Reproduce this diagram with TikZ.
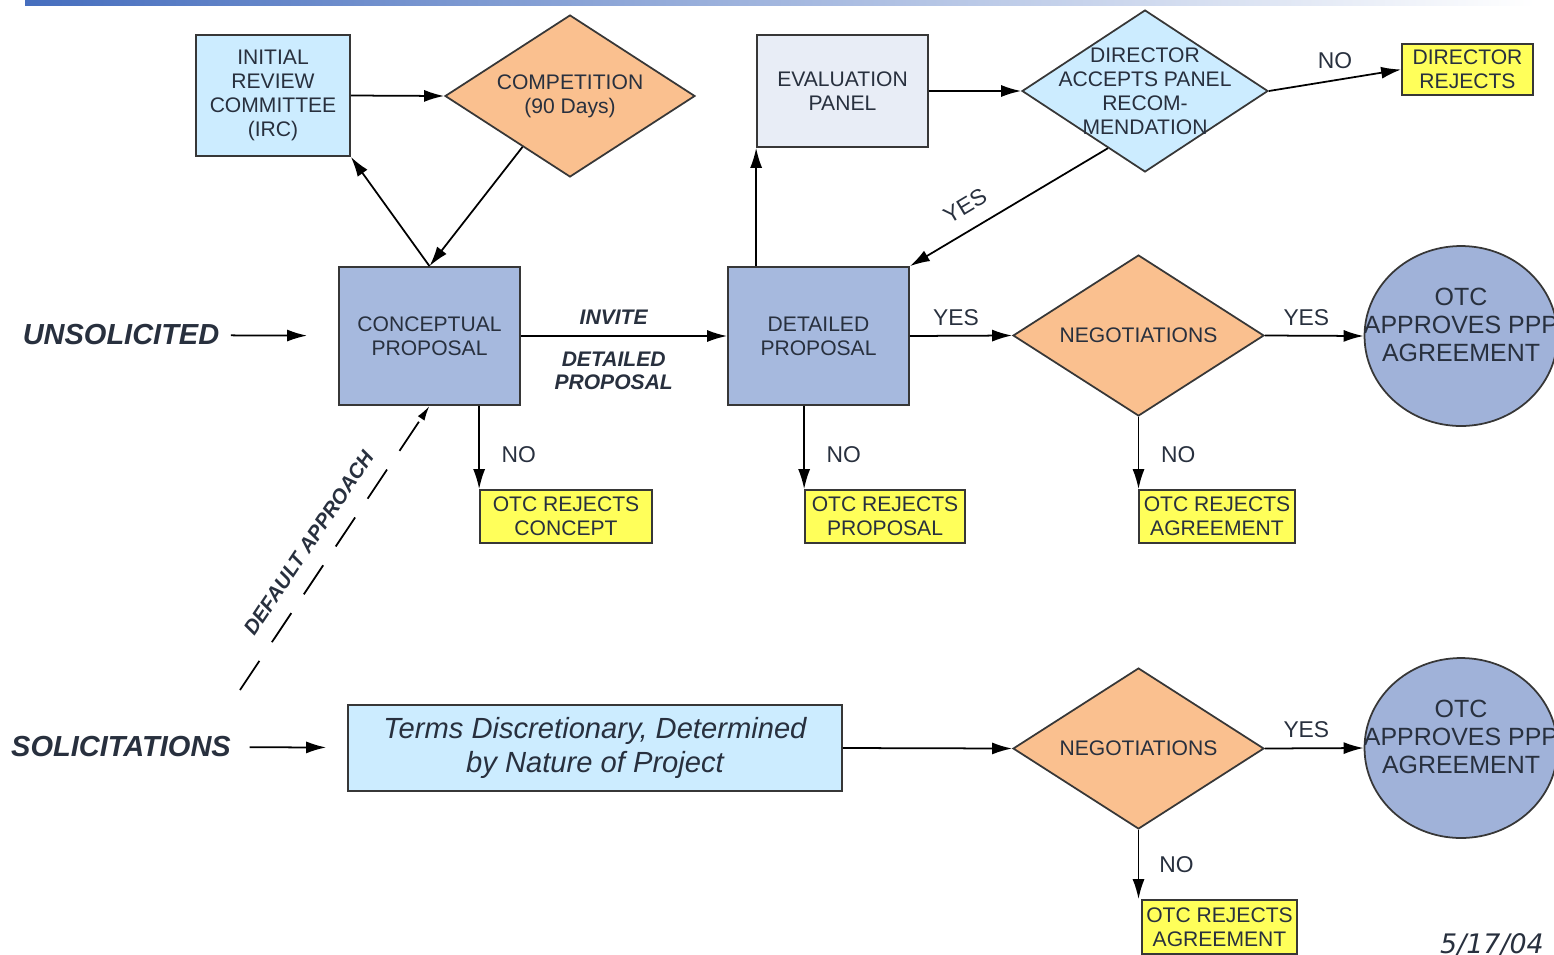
\documentclass[tikz,border=0pt]{standalone}
\usepackage{fontspec}
\setmainfont{Liberation Sans}
\newfontfamily\datefont{DejaVu Sans}
\usetikzlibrary{shapes.geometric,arrows.meta}
\definecolor{lightcyan}{RGB}{204,236,255}
\definecolor{peach}{RGB}{250,192,143}
\definecolor{steelfill}{RGB}{166,185,222}
\definecolor{palefill}{RGB}{232,237,246}
\definecolor{rejyellow}{RGB}{255,255,90}
\definecolor{circfill}{RGB}{160,178,217}
\definecolor{edgegray}{RGB}{55,55,55}
\definecolor{inkgray}{RGB}{40,48,62}
\definecolor{barblue}{RGB}{70,110,190}

\begin{document}
\begin{tikzpicture}[x=0.02cm, y=-0.02cm, line width = 1pt,
  >={Latex[length=0.4cm,width=0.24cm]},
  every node/.style={text=inkgray},
  txt/.style={font=\fontsize{12}{13.6}\selectfont, align=center},
  bigtxt/.style={font=\fontsize{14.2}{15.8}\selectfont, align=center},
  flow/.style={font=\fontsize{13}{15}\selectfont},
  side/.style={font=\fontsize{16.5}{18}\selectfont\bfseries\itshape},
  box/.style={draw=edgegray, txt, inner sep=0pt},
  dia/.style={diamond, draw=edgegray, inner sep=0pt, minimum width=5cm, minimum height=3.24cm},
  reject/.style={box, fill=rejyellow, minimum width=#1, minimum height=1.06cm},
  otc/.style={ellipse, draw=edgegray, fill=circfill, inner sep=0pt, minimum width=3.86cm, minimum height=3.6cm,
    label={[bigtxt, yshift=0.22cm]center:{OTC\\APPROVES PPP\\AGREEMENT}}}]

\useasboundingbox (0,0) rectangle (1554,954);
\shade[left color=barblue, right color=white] (25,0) rectangle (1535,5);

\node[box, fill=lightcyan, minimum width=3.08cm, minimum height=2.42cm] (irc) at (273,95.5) {INITIAL\\REVIEW\\COMMITTEE\\(IRC)};
\node[dia, fill=peach, label={[txt]center:{COMPETITION\\(90 Days)}}] (comp) at (570,96) {};
\node[box, fill=steelfill, minimum width=3.62cm, minimum height=2.76cm] (concept) at (429.5,336) {CONCEPTUAL\\PROPOSAL};
\node[box, fill=palefill, minimum width=3.42cm, minimum height=2.24cm] (eval) at (842.5,91) {EVALUATION\\PANEL};
\node[dia, fill=lightcyan, minimum width=4.92cm, label={[txt]center:{DIRECTOR\\ACCEPTS PANEL\\RECOM-\\MENDATION}}] (dir) at (1145,91) {};
\node[box, fill=rejyellow, minimum width=2.62cm, minimum height=1.02cm] (dirrej) at (1467.5,69.5) {DIRECTOR\\REJECTS};
\node[box, fill=steelfill, minimum width=3.62cm, minimum height=2.76cm] (detail) at (818.5,336) {DETAILED\\PROPOSAL};
\node[dia, fill=peach, minimum width=5.02cm, minimum height=3.22cm, label={[txt]center:NEGOTIATIONS}] (neg1) at (1138.5,335.5) {};
\node[otc] (otc1) at (1461,336) {};
\node[reject=3.44cm] (rejconcept) at (566,516.5) {OTC REJECTS\\CONCEPT};
\node[reject=3.2cm] (rejprop) at (885,516.5) {OTC REJECTS\\PROPOSAL};
\node[reject=3.12cm] (rejagr1) at (1217,516.5) {OTC REJECTS\\AGREEMENT};

\node[box, fill=lightcyan, minimum width=9.88cm, minimum height=1.72cm, font=\fontsize{16.6}{19}\selectfont\itshape] (terms) at (595,748) {Terms Discretionary, Determined\\by Nature of Project};
\node[dia, fill=peach, minimum width=5.02cm, minimum height=3.22cm, label={[txt]center:NEGOTIATIONS}] (neg2) at (1138.5,748.5) {};
\node[otc] (otc2) at (1461,748) {};
\node[reject=3.1cm, minimum height=1.08cm] (rejagr2) at (1219.5,927) {OTC REJECTS\\AGREEMENT};

\node[side] (unsol) at (121,335) {UNSOLICITED};
\node[side] (solic) at (121,747) {SOLICITATIONS};
\coordinate (dstart) at (240,690);
\node[anchor=base, font=\datefont\fontsize{15.3}{18}\selectfont\itshape] (date) at (1492,953) {5/17/04};

\draw[->, shorten <=0.1cm, shorten >=0.62cm] (unsol) -- (concept);
\draw[->, shorten <=0.24cm, shorten >=0.42cm] (solic) -- (terms);

\draw[->] (irc.east) -- (comp.west);
\draw[->] (concept.north) -- (irc.south east);
\draw[->] (comp.227) -- (concept.north);
\draw[->] (concept.east) -- (detail.west)
  node[pos=0.45, above=3pt, font=\fontsize{12}{13.6}\selectfont\bfseries\itshape] {INVITE}
  node[pos=0.45, below=5pt, align=center, font=\fontsize{12}{13.6}\selectfont\bfseries\itshape] {DETAILED\\PROPOSAL};
\draw[->] (detail.north -| eval.west) -- (eval.south west);
\draw[->] (eval.east) -- (dir.west);
\draw[->] (dir.east) -- (dirrej.west) node[midway, above=3pt, flow] {NO};
\draw[->] (dir.237) -- (detail.north east) node[pos=0.66, sloped, above=5pt, flow] {YES};
\draw[->] (detail.east) -- (neg1.west) node[pos=0.45, above=2pt, flow] {YES};
\draw[->] (neg1.east) -- (otc1.west) node[pos=0.42, above=2pt, flow] {YES};

\draw[->] (concept.south -| rejconcept.west) -- (rejconcept.north west) node[pos=0.58, right=9pt, flow] {NO};
\draw[->] (detail.south -| rejprop.west) -- (rejprop.north west) node[pos=0.58, right=9pt, flow] {NO};
\draw[->] (neg1.south) -- (neg1.south |- rejagr1.north) node[pos=0.52, right=9pt, flow] {NO};

\draw[->] (terms.east) -- (neg2.west);
\draw[->] (neg2.east) -- (otc2.west) node[pos=0.42, above=2pt, flow] {YES};
\draw[->] (neg2.south) -- (neg2.south |- rejagr2.north) node[midway, right=8pt, flow] {NO};

\draw[-{Latex[length=0.3cm,width=0.16cm]}, dash pattern=on 0.7cm off 0.45cm] (dstart) -- (concept.south)
  node[pos=0.47, sloped, above=6pt, font=\fontsize{11.7}{13}\selectfont\bfseries\itshape] {DEFAULT APPROACH};

\end{tikzpicture}
\end{document}
